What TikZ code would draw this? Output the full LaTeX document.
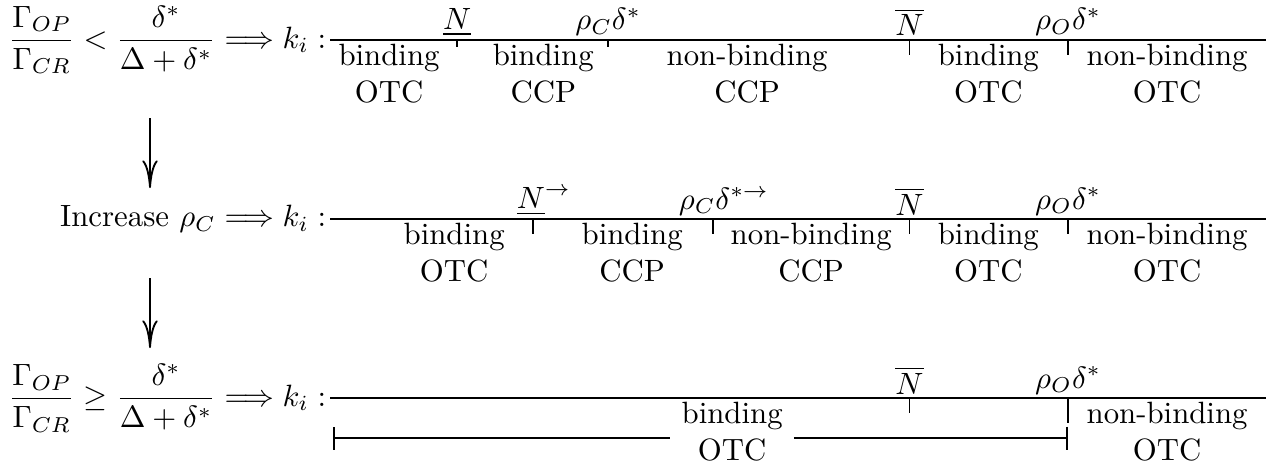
\documentclass[tikz,border=0pt]{standalone}
\usepackage{amsmath}
\usetikzlibrary{arrows.meta}

\begin{document}
\begin{tikzpicture}[>={To[length=9pt,width=5pt]},semithick,
  seg/.style={anchor=north,align=center,inner ysep=1pt},
  pnt/.style={anchor=south,inner sep=1pt},
  cond/.style={anchor=east,inner sep=1pt}]
\useasboundingbox (0,0) rectangle (14.62,5.342);
% Case 1: ratio below threshold
\begin{scope}[yshift=4.886cm]
\coordinate (s1) at (3.767,0);
\coordinate (e1) at (14.45,0);
\node[cond] (c1) at (s1) {$\displaystyle\frac{\Gamma_{OP}}{\Gamma_{CR}} < \frac{\delta^*}{\Delta+\delta^*} \Longrightarrow k_i:$};
\draw (s1) -- (e1);
\draw (5.217,0) -- (5.217,-0.08);
\draw (6.941,0) -- (6.941,-0.08);
\draw (10.38,0) -- (10.38,-0.17);
\draw (12.19,0) -- (12.19,-0.17);
\node[pnt] (p11) at (5.217,0) {$\underline{N}$};
\node[pnt] (p12) at (6.941,0) {$\rho_C\delta^*$};
\node[pnt] (p13) at (10.38,0) {$\overline{N}$};
\node[pnt] (p14) at (12.19,0) {$\rho_O\delta^*$};
\node[seg] (l11) at (4.44,0) {binding\\OTC};
\node[seg] (l12) at (6.20,0) {binding\\CCP};
\node[seg] (l13) at (8.527,0) {non-binding\\CCP};
\node[seg] (l14) at (11.28,0) {binding\\OTC};
\node[seg] (l15) at (13.32,0) {non-binding\\OTC};
\end{scope}
% Case 2: higher rho_C
\begin{scope}[yshift=2.842cm]
\coordinate (s2) at (3.767,0);
\coordinate (e2) at (14.45,0);
\node[cond] (c2) at (s2) {Increase $\rho_C \Longrightarrow k_i:$};
\draw (s2) -- (e2);
\draw (6.084,0) -- (6.084,-0.17);
\draw (8.139,0) -- (8.139,-0.17);
\draw (10.38,0) -- (10.38,-0.17);
\draw (12.19,0) -- (12.19,-0.17);
\node[pnt,xshift=3.5pt] (p21) at (6.084,0) {$\underline{N}^{\rightarrow}$};
\node[pnt,xshift=3.5pt] (p22) at (8.139,0) {$\rho_C\delta^{*\rightarrow}$};
\node[pnt] (p23) at (10.38,0) {$\overline{N}$};
\node[pnt] (p24) at (12.19,0) {$\rho_O\delta^*$};
\node[seg] (l21) at (5.183,0) {binding\\OTC};
\node[seg] (l22) at (7.215,0) {binding\\CCP};
\node[seg] (l23) at (9.258,0) {non-binding\\CCP};
\node[seg] (l24) at (11.28,0) {binding\\OTC};
\node[seg] (l25) at (13.32,0) {non-binding\\OTC};
\end{scope}
% Case 3: ratio above threshold
\begin{scope}[yshift=0.799cm]
\coordinate (s3) at (3.767,0);
\coordinate (e3) at (14.45,0);
\node[cond] (c3) at (s3) {$\displaystyle\frac{\Gamma_{OP}}{\Gamma_{CR}} \geq \frac{\delta^*}{\Delta+\delta^*} \Longrightarrow k_i:$};
\draw (s3) -- (e3);
\draw (10.38,0) -- (10.38,-0.17);
\draw (12.19,0) -- (12.19,-0.28);
\node[pnt] (p33) at (10.38,0) {$\overline{N}$};
\node[pnt] (p34) at (12.19,0) {$\rho_O\delta^*$};
\node[seg] (l31) at (8.356,0) {binding\\OTC};
\node[seg] (l32) at (13.32,0) {non-binding\\OTC};
\coordinate (b1) at (3.80,-0.457);
\coordinate (b2) at (12.19,-0.457);
\draw[{Bar[width=7.5pt]}-] (b1) -- (b1 -| l31.west);
\draw[-{Bar[width=7.5pt]}] (b2 -| l31.east) -- (b2);
\end{scope}
% arrows between cases
\coordinate (a1) at (1.712,3.995);
\coordinate (a2) at (1.712,3.196);
\coordinate (a3) at (1.712,2.169);
\coordinate (a4) at (1.712,1.37);
\draw[->] (a1) -- (a2);
\draw[->] (a3) -- (a4);
\end{tikzpicture}
\end{document}
